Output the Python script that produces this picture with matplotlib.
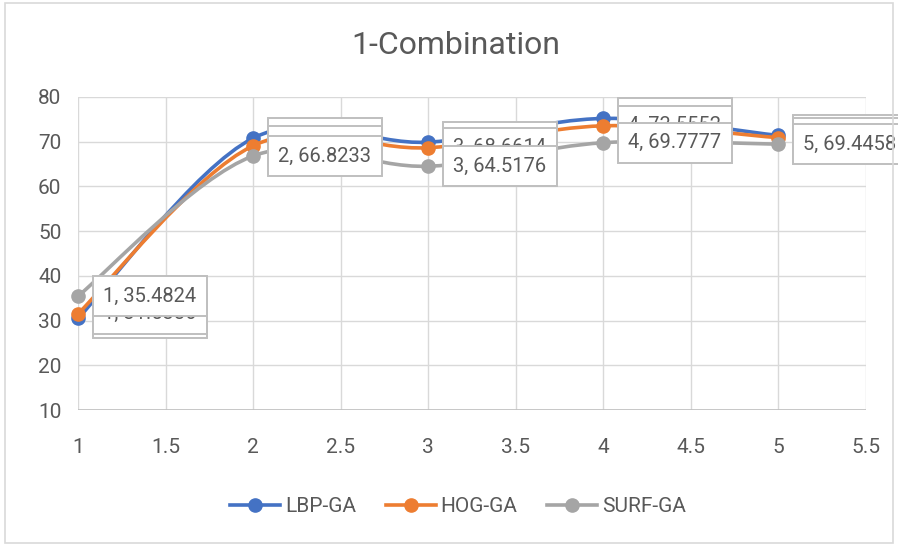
import matplotlib
matplotlib.use("Agg")
import matplotlib.pyplot as plt
from matplotlib.path import Path
from matplotlib.patches import PathPatch, Rectangle
from matplotlib.lines import Line2D

plt.rcParams['font.family'] = ['Roboto', 'DejaVu Sans']

# data
x = [1, 2, 3, 4, 5]
lbp = [30.5, 70.8, 69.9, 75.2, 71.4]
hog = [31.5386, 69.1, 68.6614, 73.5552, 70.9]
surf = [35.4824, 66.8233, 64.5176, 69.7777, 69.4458]
names = ['LBP-GA', 'HOG-GA', 'SURF-GA']
colors = ['#4472C4', '#ED7D31', '#A5A5A5']
xticks = [1, 1.5, 2, 2.5, 3, 3.5, 4, 4.5, 5, 5.5]
yticks = [10, 20, 30, 40, 50, 60, 70, 80]

txt = '#595959'


def smooth_path(xs, ys):
    # excel-like smoothed line: cubic bezier segments through the points
    pts = list(zip(xs, ys))
    n = len(pts)
    verts = [pts[0]]
    codes = [Path.MOVETO]
    for i in range(n - 1):
        p0 = pts[i - 1] if i > 0 else pts[i]
        p1 = pts[i]
        p2 = pts[i + 1]
        p3 = pts[i + 2] if i + 2 < n else pts[i + 1]
        c1 = (p1[0] + (p2[0] - p0[0]) / 6, p1[1] + (p2[1] - p0[1]) / 6)
        c2 = (p2[0] - (p3[0] - p1[0]) / 6, p2[1] - (p3[1] - p1[1]) / 6)
        verts += [c1, c2, p2]
        codes += [Path.CURVE4] * 3
    return Path(verts, codes)


fig = plt.figure(figsize=(8.98, 5.46), dpi=100)
fig.patches.append(Rectangle((5 / 898, 3 / 546), 888 / 898, 540 / 546,
                             transform=fig.transFigure, fill=False,
                             edgecolor='#D9D9D9', lw=1.2))
ax = fig.add_axes([78 / 898, 1 - 410 / 546, 788 / 898, 313 / 546])

ax.set_xlim(1, 5.5)
ax.set_ylim(10, 80)
ax.set_xticks(xticks)
ax.set_xticklabels([f'{t:g}' for t in xticks])
ax.set_yticks(yticks)
ax.grid(True, color='#D9D9D9', lw=1)
ax.set_axisbelow(True)
for s in ax.spines.values():
    s.set_visible(False)
ax.axhline(10, color='#BFBFBF', lw=1.2, zorder=1)
ax.tick_params(length=0, labelsize=15, colors=txt)
ax.tick_params(axis='x', pad=20)
ax.tick_params(axis='y', pad=12)

series = [lbp, hog, surf]
for k, (ys, c) in enumerate(zip(series, colors)):
    ax.add_patch(PathPatch(smooth_path(x, ys), fill=False, edgecolor=c,
                           lw=2.6, zorder=3 + k, capstyle='round'))
    ax.plot(x, ys, 'o', color=c, ms=9.5, zorder=3 + k, clip_on=False)

for k, ys in enumerate(series):
    for xi, yi in zip(x, ys):
        ax.annotate(f'{xi}, {yi:.4f}', (xi, yi), xytext=(18, 0),
                    textcoords='offset points', ha='left', va='center',
                    fontsize=14.5, color=txt, zorder=10 + k,
                    annotation_clip=False,
                    bbox=dict(boxstyle='square,pad=0.52', fc='white',
                              ec='#BFBFBF', lw=1.4))

fig.text(456 / 898, 1 - 45 / 546, '1-Combination', ha='center', va='center',
         fontsize=23, color=txt)

handles = [Line2D([], [], color=c, lw=2.6, marker='o', ms=9.5) for c in colors]
fig.legend(handles, names, loc='center', bbox_to_anchor=(458 / 898, 1 - 507 / 546),
           ncol=3, frameon=False, fontsize=15, labelcolor=txt,
           handlelength=2.4, handletextpad=0.25, columnspacing=1.4)

fig.savefig('out.png', dpi=100)
